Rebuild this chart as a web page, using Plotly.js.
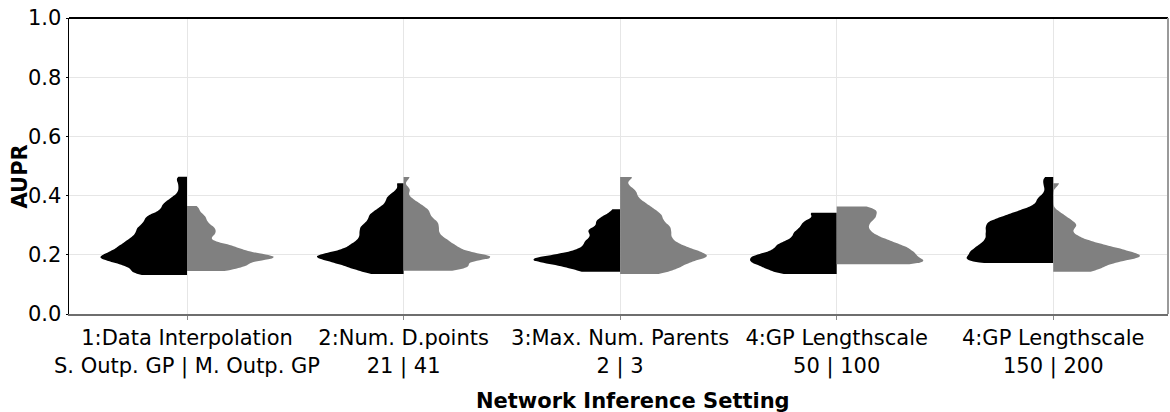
<!DOCTYPE html>
<html>
<head>
<meta charset="utf-8">
<script src="https://cdn.plot.ly/plotly-3.0.1.min.js"></script>
<style>html,body{margin:0;padding:0;background:#fff;}#chart{width:1170px;height:412px;}</style>
</head>
<body>
<div id="chart"></div>
<script>
// Category tick labels
const categories = [
  "1:Data Interpolation<br>S. Outp. GP | M. Outp. GP",
  "2:Num. D.points<br>21 | 41",
  "3:Max. Num. Parents<br>2 | 3",
  "4:GP Lengthscale<br>50 | 100",
  "4:GP Lengthscale<br>150 | 200"
];
const xTitle = "Network Inference Setting";
const yTitle = "AUPR";

// AUPR values, left (black) and right (gray) halves
const interpSingle = [0.132,0.132,0.132,0.132,0.132,0.132,0.15,0.15,0.15,0.15,0.15,0.15,0.17,0.17,0.17,0.17,0.17,0.17,0.17,0.17,0.19,0.19,0.19,0.19,0.19,0.19,0.19,0.19,0.19,0.19,0.19,0.21,0.21,0.21,0.21,0.21,0.21,0.21,0.21,0.21,0.23,0.23,0.23,0.23,0.23,0.23,0.23,0.23,0.25,0.25,0.25,0.25,0.25,0.25,0.25,0.27,0.27,0.27,0.27,0.27,0.27,0.29,0.29,0.29,0.29,0.29,0.29,0.31,0.31,0.31,0.31,0.31,0.33,0.33,0.33,0.33,0.33,0.35,0.35,0.35,0.37,0.37,0.37,0.39,0.39,0.41,0.43,0.45,0.464];
const interpMulti = [0.145,0.145,0.145,0.145,0.165,0.165,0.165,0.165,0.165,0.165,0.165,0.19,0.19,0.19,0.19,0.19,0.19,0.19,0.19,0.19,0.19,0.19,0.21,0.21,0.21,0.21,0.21,0.21,0.23,0.23,0.23,0.23,0.23,0.25,0.25,0.27,0.27,0.27,0.29,0.29,0.29,0.31,0.31,0.33,0.33,0.35,0.365];
const points21 = [0.135,0.135,0.135,0.135,0.155,0.155,0.155,0.155,0.155,0.155,0.175,0.175,0.175,0.175,0.175,0.175,0.175,0.175,0.195,0.195,0.195,0.195,0.195,0.195,0.195,0.195,0.195,0.195,0.195,0.215,0.215,0.215,0.215,0.215,0.215,0.215,0.235,0.235,0.235,0.235,0.235,0.235,0.255,0.255,0.255,0.255,0.255,0.275,0.275,0.275,0.275,0.275,0.295,0.295,0.295,0.295,0.295,0.315,0.315,0.315,0.315,0.335,0.335,0.335,0.335,0.355,0.355,0.355,0.375,0.375,0.395,0.395,0.415,0.442];
const points41 = [0.146,0.146,0.146,0.146,0.146,0.146,0.165,0.165,0.165,0.165,0.165,0.165,0.165,0.165,0.19,0.19,0.19,0.19,0.19,0.19,0.19,0.19,0.19,0.19,0.19,0.19,0.21,0.21,0.21,0.21,0.21,0.21,0.21,0.23,0.23,0.23,0.23,0.23,0.23,0.25,0.25,0.25,0.25,0.25,0.27,0.27,0.27,0.27,0.29,0.29,0.29,0.29,0.31,0.31,0.31,0.31,0.33,0.33,0.33,0.35,0.35,0.35,0.37,0.37,0.39,0.42,0.463];
const parents2 = [0.143,0.143,0.143,0.143,0.143,0.165,0.165,0.165,0.165,0.165,0.165,0.165,0.185,0.185,0.185,0.185,0.185,0.185,0.185,0.185,0.185,0.185,0.185,0.205,0.205,0.205,0.205,0.205,0.205,0.225,0.225,0.225,0.225,0.245,0.245,0.245,0.245,0.265,0.265,0.265,0.285,0.285,0.285,0.285,0.31,0.31,0.31,0.33,0.33,0.354];
const parents3 = [0.135,0.135,0.135,0.135,0.135,0.155,0.155,0.155,0.155,0.155,0.155,0.155,0.175,0.175,0.175,0.175,0.175,0.175,0.175,0.175,0.195,0.195,0.195,0.195,0.195,0.195,0.195,0.195,0.195,0.195,0.195,0.215,0.215,0.215,0.215,0.215,0.215,0.215,0.215,0.215,0.235,0.235,0.235,0.235,0.235,0.235,0.235,0.255,0.255,0.255,0.255,0.255,0.255,0.275,0.275,0.275,0.275,0.275,0.275,0.295,0.295,0.295,0.295,0.295,0.295,0.315,0.315,0.315,0.315,0.315,0.335,0.335,0.335,0.335,0.335,0.355,0.355,0.355,0.355,0.375,0.375,0.375,0.395,0.395,0.415,0.415,0.435,0.463,0.463];
const ls50 = [0.135,0.135,0.135,0.135,0.135,0.135,0.135,0.155,0.155,0.155,0.155,0.155,0.155,0.155,0.155,0.175,0.175,0.175,0.175,0.175,0.175,0.175,0.175,0.175,0.175,0.195,0.195,0.195,0.195,0.195,0.195,0.195,0.195,0.195,0.195,0.215,0.215,0.215,0.215,0.215,0.215,0.215,0.235,0.235,0.235,0.235,0.235,0.235,0.235,0.255,0.255,0.255,0.255,0.255,0.275,0.275,0.275,0.275,0.275,0.295,0.295,0.295,0.295,0.315,0.315,0.315,0.315,0.342,0.342,0.342,0.342];
const ls100 = [0.168,0.168,0.168,0.168,0.168,0.168,0.168,0.168,0.168,0.168,0.185,0.185,0.185,0.185,0.185,0.185,0.185,0.185,0.185,0.185,0.205,0.205,0.205,0.205,0.205,0.205,0.205,0.205,0.205,0.205,0.225,0.225,0.225,0.225,0.225,0.225,0.225,0.225,0.225,0.245,0.245,0.245,0.245,0.245,0.245,0.245,0.265,0.265,0.265,0.265,0.265,0.285,0.285,0.285,0.285,0.305,0.305,0.305,0.305,0.325,0.325,0.325,0.325,0.325,0.345,0.345,0.345,0.345,0.345,0.363,0.363,0.363,0.363];
const ls150 = [0.172,0.172,0.172,0.172,0.172,0.172,0.172,0.172,0.172,0.19,0.19,0.19,0.19,0.19,0.19,0.19,0.19,0.19,0.19,0.21,0.21,0.21,0.21,0.21,0.21,0.21,0.21,0.21,0.21,0.23,0.23,0.23,0.23,0.23,0.23,0.23,0.23,0.23,0.25,0.25,0.25,0.25,0.25,0.25,0.25,0.25,0.27,0.27,0.27,0.27,0.27,0.27,0.27,0.27,0.29,0.29,0.29,0.29,0.29,0.29,0.29,0.29,0.31,0.31,0.31,0.31,0.31,0.31,0.31,0.31,0.33,0.33,0.33,0.33,0.33,0.33,0.35,0.35,0.35,0.35,0.37,0.37,0.39,0.39,0.41,0.43,0.447,0.463];
const ls200 = [0.143,0.143,0.143,0.143,0.143,0.163,0.163,0.163,0.163,0.163,0.163,0.183,0.183,0.183,0.183,0.183,0.183,0.183,0.183,0.2,0.2,0.2,0.2,0.2,0.2,0.2,0.2,0.2,0.2,0.22,0.22,0.22,0.22,0.22,0.22,0.22,0.22,0.24,0.24,0.24,0.24,0.24,0.26,0.26,0.26,0.28,0.28,0.3,0.3,0.3,0.32,0.32,0.34,0.442];

const leftSeries = [interpSingle, points21, parents2, ls50, ls150];
const rightSeries = [interpMulti, points41, parents3, ls100, ls200];

const FONT = "DejaVu Sans";
const traces = [];
function half(cat, vals, side, color) {
  return {
    type: "violin", x0: cat, y: vals, side: side,
    spanmode: "hard", bandwidth: 0.012, width: 0.8, scalemode: "width",
    points: false, box: {visible: false}, meanline: {visible: false},
    fillcolor: color, line: {color: color, width: 0}, opacity: 1,
    showlegend: false, hoverinfo: "y"
  };
}
categories.forEach((c, i) => {
  traces.push(half(c, leftSeries[i], "negative", "#000000"));
  traces.push(half(c, rightSeries[i], "positive", "#808080"));
});

const layout = {
  width: 1170, height: 412,
  margin: {l: 69, r: 2, t: 18, b: 98},
  paper_bgcolor: "#ffffff", plot_bgcolor: "#ffffff",
  font: {family: FONT, size: 21, color: "#000000"},
  violinmode: "overlay",
  xaxis: {
    type: "category", range: [-0.545, 4.53], tickangle: 0,
    showgrid: true, gridcolor: "#e6e6e6", gridwidth: 1, zeroline: false,
    showline: true, linecolor: "#6e6e6e", linewidth: 2,
    ticks: "outside", ticklen: 4, tickcolor: "#8a8a8a",
    tickfont: {family: FONT, size: 21, color: "#000000"}
  },
  yaxis: {
    range: [0, 1], dtick: 0.2, tickformat: ".1f",
    showgrid: true, gridcolor: "#e6e6e6", gridwidth: 1, zeroline: false,
    showline: true, linecolor: "#000000", linewidth: 1.5,
    ticks: "outside", ticklen: 2, tickcolor: "#000000",
    tickfont: {family: FONT, size: 21, color: "#000000"}
  },
  yaxis2: {
    overlaying: "y", anchor: "x", side: "left",
    range: [0, 1], dtick: 0.2,
    showgrid: false, zeroline: false, showline: false, showticklabels: false,
    ticks: "outside", ticklen: 5, tickcolor: "#000000", tickwidth: 1
  },
  annotations: [
    {text: xTitle, xref: "paper", yref: "paper", x: 0.5132, y: -0.294, xanchor: "center", yanchor: "middle",
     showarrow: false, font: {family: FONT, size: 21, weight: "bold", color: "#000000"}},
    {text: yTitle, xref: "paper", yref: "paper", x: 0, y: 0.4645, xshift: -49, xanchor: "center", yanchor: "middle",
     textangle: -90, showarrow: false, font: {family: FONT, size: 21, weight: "bold", color: "#000000"}}
  ],
  shapes: [
    {type: "line", xref: "paper", yref: "paper", x0: 0, x1: 1, y0: 1, y1: 1, line: {color: "#000000", width: 2}},
    {type: "line", xref: "paper", yref: "paper", x0: 1, x1: 1, y0: 0, y1: 1, line: {color: "#9a9a9a", width: 2}}
  ]
};

Plotly.newPlot("chart", traces, layout, {displayModeBar: false, staticPlot: true});
</script>
</body>
</html>
